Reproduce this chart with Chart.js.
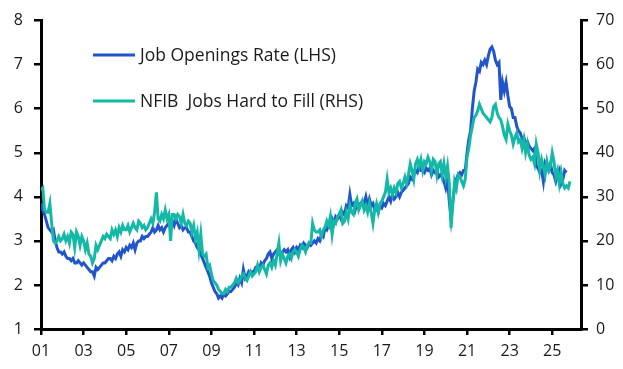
<!DOCTYPE html>
<html>
<head>
<meta charset="utf-8">
<script src="https://cdn.jsdelivr.net/npm/chart.js@4.4.1/dist/chart.umd.min.js"></script>
<style>
  html, body { margin: 0; padding: 0; background: #fff; }
  #wrap { width: 623px; height: 369px; }
</style>
</head>
<body>
<div id="wrap"><canvas id="chart" width="623" height="369"></canvas></div>
<script>
/* --------------- Data (monthly, from Jan 2001) --------------- */
const startYear = 2001;
const xTicks = [2001, 2003, 2005, 2007, 2009, 2011, 2013, 2015, 2017, 2019, 2021, 2023, 2025];
const leftTicks = [1, 2, 3, 4, 5, 6, 7, 8];
const rightTicks = [0, 10, 20, 30, 40, 50, 60, 70];

// Job openings rate, %, LHS
const joltsRate = [
  3.85, 3.7, 3.6, 3.45, 3.3, 3.25, 3.2, 3.25, 3.0, 2.85, 2.75, 2.75,
  2.7, 2.75, 2.65, 2.6, 2.6, 2.55, 2.6, 2.5, 2.5, 2.55, 2.5, 2.45,
  2.5, 2.45, 2.4, 2.35, 2.3, 2.3, 2.2, 2.4, 2.35, 2.4, 2.45, 2.5,
  2.5, 2.55, 2.6, 2.6, 2.55, 2.65, 2.6, 2.7, 2.75, 2.65, 2.8, 2.75,
  2.85, 2.8, 2.9, 2.85, 2.95, 2.8, 2.95, 3.0, 3.0, 3.1, 3.05, 3.1,
  3.1, 3.15, 3.2, 3.3, 3.2, 3.25, 3.35, 3.25, 3.3, 3.2, 3.3, 3.35,
  3.4, 3.3, 3.45, 3.35, 3.5, 3.4, 3.3, 3.35, 3.25, 3.3, 3.3, 3.2,
  3.2, 3.1, 3.0, 2.95, 2.85, 2.8, 2.7, 2.6, 2.5, 2.4, 2.3, 2.2,
  2.05, 1.95, 1.85, 1.8, 1.7, 1.75, 1.7, 1.8, 1.75, 1.8, 1.85, 1.85,
  1.9, 1.95, 2.05, 2.0, 2.15, 2.05, 2.35, 2.15, 2.2, 2.3, 2.25, 2.3,
  2.3, 2.4, 2.4, 2.35, 2.5, 2.45, 2.55, 2.6, 2.7, 2.75, 2.6, 2.7,
  2.75, 2.8, 2.7, 2.65, 2.75, 2.8, 2.75, 2.8, 2.65, 2.8, 2.85, 2.75,
  2.85, 2.8, 2.9, 2.85, 2.95, 2.9, 2.85, 2.95, 2.9, 2.95, 3.0, 2.95,
  3.05, 3.0, 3.15, 3.1, 3.3, 3.25, 3.35, 3.3, 3.5, 3.4, 3.55, 3.5,
  3.6, 3.5, 3.65, 3.6, 3.8, 3.75, 4.05, 3.8, 3.85, 3.7, 3.85, 3.8,
  3.85, 3.9, 3.85, 4.0, 3.8, 3.95, 3.8, 3.85, 3.7, 3.75, 3.65, 3.8,
  3.75, 3.85, 3.8, 3.9, 4.0, 3.9, 4.05, 3.95, 4.0, 4.1, 4.0, 4.1,
  4.15, 4.2, 4.25, 4.3, 4.45, 4.4, 4.5, 4.6, 4.55, 4.7, 4.6, 4.6,
  4.55, 4.65, 4.6, 4.65, 4.5, 4.6, 4.55, 4.6, 4.45, 4.5, 4.45, 4.35,
  4.2, 4.4, 3.9, 3.5, 3.9, 4.2, 4.4, 4.5, 4.55, 4.5, 4.6, 4.6,
  5.0, 5.3, 5.5, 6.0, 6.4, 6.6, 6.9, 6.85, 7.05, 7.0, 7.1, 7.0,
  7.2, 7.35, 7.4, 7.3, 7.1, 7.0, 7.05, 6.2, 6.6, 6.4, 6.6, 6.3,
  6.05, 6.0, 5.8, 5.8, 5.6, 5.5, 5.45, 5.3, 5.35, 5.2, 5.25, 5.15,
  5.1, 5.05, 5.1, 4.7, 4.65, 4.55, 4.6, 4.35, 4.75, 4.65, 4.6, 4.75,
  4.55, 4.5, 4.35, 4.5, 4.6, 4.3, 4.4, 4.6, 4.55
];

// NFIB share of firms with jobs hard to fill, %, RHS
const nfibHardToFill = [
  31.5, 32, 27, 26.5, 26.5, 28.5, 24, 20, 19.5, 20, 21, 20,
  20.5, 21.5, 20, 21, 19.5, 22, 21.5, 18.5, 22, 21, 19, 21,
  20, 18, 19.5, 17, 16.5, 15, 16, 19, 18, 19, 20, 21,
  20.5, 21.5, 21, 20.5, 22.5, 21.5, 22.5, 21, 23, 22, 23.5, 22.5,
  22.5, 23.5, 22, 23, 24, 23, 22.5, 24.5, 24, 23, 23.5, 22.5,
  23, 24, 25, 24, 26.5, 31, 25, 24.5, 26, 25, 27, 25,
  26, 20, 26, 26, 25, 26, 25.5, 24, 26, 24, 23.5, 24.5,
  24, 22, 23.5, 20.5, 22, 18, 21.5, 17, 16.5, 17, 14, 14.5,
  12.5, 11, 10.5, 10, 9, 8.5, 8, 8, 9, 8.5, 9.5, 9.5,
  10, 10.5, 11.5, 10.5, 11, 12, 12.5, 11.5, 11, 12, 13, 12,
  12.5, 13, 14.5, 13, 14, 14.5, 13.5, 12.5, 14.5, 15, 14, 15.5,
  14.5, 17, 19.5, 15.5, 17, 16, 15, 16.5, 17, 16, 17.5, 18,
  17.5, 16.5, 18, 19, 18.5, 17.5, 19, 19.5, 19.5, 24, 22.5, 22,
  22, 22.5, 21, 22.5, 23, 24.5, 23.5, 25.5, 21.5, 24.5, 24, 25.5,
  26, 27, 24, 24.5, 26.5, 25, 28, 26.5, 26, 28.5, 29.5, 27,
  28, 29, 27, 28, 26.5, 28.5, 26.5, 24, 27, 28.5, 26.5, 28.5,
  29, 30, 31, 34, 31, 32, 30.5, 32, 31, 33, 33.5, 32,
  33, 34.5, 33, 35, 37.5, 36, 34, 37.5, 38.5, 37, 38.5, 36,
  38, 37.5, 39, 38, 36, 38.5, 38, 35, 37.5, 38, 35, 37.5,
  34.5, 37, 33, 23, 28.5, 33.5, 32, 35, 34.5, 33.5, 32.5, 34,
  39, 41, 44, 46, 48, 48.5, 49.5, 51, 50, 49, 48.5, 48,
  47.5, 47, 48, 50.5, 51, 49, 48, 47.5, 46, 44, 43, 46.5,
  45, 44, 42, 43.5, 44.5, 42.5, 43, 41, 43, 40, 42, 39.5,
  38.5, 39, 37.5, 42, 40, 36, 38.5, 37, 35, 38, 36, 37,
  40, 38, 34.5, 36, 33, 35.5, 33, 32, 32.5, 32, 33.5
];

const seriesNames = ["Job Openings Rate (LHS)", "NFIB  Jobs Hard to Fill (RHS)"];
const blue = "#2255cc";
const teal = "#14b8a6";
const fontFamily = "'Open Sans', 'Noto Sans', sans-serif";

const toPoints = (arr) => arr.map((v, i) => ({ x: startYear + i / 12, y: v }));

/* --------------- Legend drawn inside the plot --------------- */
const innerLegend = {
  id: "innerLegend",
  afterDraw(chart) {
    const ctx = chart.ctx;
    const rows = [
      { label: seriesNames[0], color: blue, y: 55 },
      { label: seriesNames[1], color: teal, y: 101 },
    ];
    ctx.save();
    ctx.font = "17.5px " + fontFamily;
    ctx.textBaseline = "middle";
    ctx.fillStyle = "#1a1a1a";
    rows.forEach((r) => {
      ctx.strokeStyle = r.color;
      ctx.lineWidth = 3;
      ctx.beginPath();
      ctx.moveTo(93, r.y);
      ctx.lineTo(135, r.y);
      ctx.stroke();
      ctx.fillText(r.label, 140, r.y + 1);
    });
    ctx.restore();
  },
};

const tickFont = { family: fontFamily, size: 16 };

new Chart(document.getElementById("chart"), {
  type: "line",
  plugins: [innerLegend],
  data: {
    datasets: [
      {
        label: seriesNames[1],
        data: toPoints(nfibHardToFill),
        yAxisID: "y2",
        borderColor: teal,
        borderWidth: 3,
        pointRadius: 0,
        tension: 0,
      },
      {
        label: seriesNames[0],
        data: toPoints(joltsRate),
        yAxisID: "y",
        borderColor: blue,
        borderWidth: 3,
        pointRadius: 0,
        tension: 0,
      },
    ],
  },
  options: {
    responsive: false,
    animation: false,
    layout: { padding: { top: 16, left: 0, right: 0, bottom: 0 } },
    plugins: { legend: { display: false }, tooltip: { enabled: false } },
    scales: {
      x: {
        type: "linear",
        min: 2001,
        max: 2026.35,
        afterBuildTicks: (s) => { s.ticks = xTicks.map((v) => ({ value: v })); },
        afterFit: (s) => { s.height = 40; },
        ticks: {
          color: "#1a1a1a",
          font: tickFont,
          padding: 7,
          maxRotation: 0,
          autoSkip: false,
          callback: (v) => String(v % 100).padStart(2, "0"),
        },
        grid: { drawOnChartArea: false, tickLength: 6, color: "#000", lineWidth: 2.5 },
        border: { color: "#000", width: 3 },
      },
      y: {
        position: "left",
        min: 1,
        max: 8,
        afterBuildTicks: (s) => { s.ticks = leftTicks.map((v) => ({ value: v })); },
        afterFit: (s) => { s.width = 41; },
        ticks: { color: "#1a1a1a", font: tickFont, padding: 11 },
        grid: { drawOnChartArea: false, tickLength: 7, color: "#000", lineWidth: 2.5 },
        border: { color: "#000", width: 3 },
      },
      y2: {
        position: "right",
        min: 0,
        max: 70,
        afterBuildTicks: (s) => { s.ticks = rightTicks.map((v) => ({ value: v })); },
        afterFit: (s) => { s.width = 42; },
        ticks: { color: "#1a1a1a", font: tickFont, padding: 8 },
        grid: { drawOnChartArea: false, tickLength: 7, color: "#000", lineWidth: 2.5 },
        border: { color: "#000", width: 3 },
      },
    },
  },
});
</script>
</body>
</html>
